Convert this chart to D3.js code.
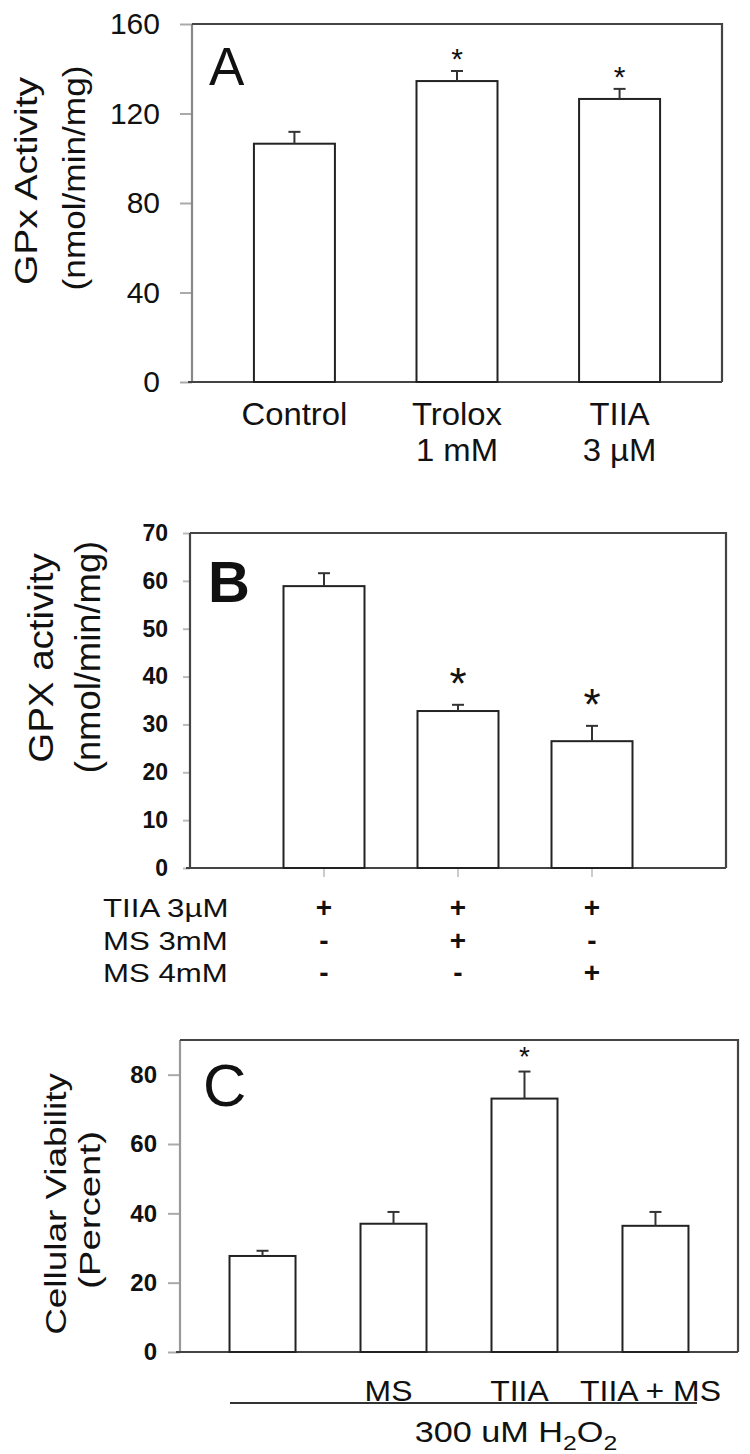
<!DOCTYPE html>
<html>
<head>
<meta charset="utf-8">
<script src="https://cdn.jsdelivr.net/npm/d3@7"></script>
<style>
  body { margin: 0; background: #fff; }
  svg { display: block; }
</style>
</head>
<body>
<svg id="fig" width="750" height="1454"></svg>
<script>
// Three stacked bar panels (A, B, C) with error bars and significance stars

// Panel A data
const A_LABELS = [["Control"], ["Trolox", "1 mM"], ["TIIA", "3 µM"]];
const A_VALUES = [106.5, 134.5, 126.5];
const A_ERRORS = [5.3, 4.5, 4.5];
const A_SIG = [false, true, true];
const A_TICKS = [0, 40, 80, 120, 160];

// Panel B data
const B_GROUPS = ["g1", "g2", "g3"];
const B_VALUES = [58.9, 32.8, 26.5];
const B_ERRORS = [2.7, 1.3, 3.2];
const B_SIG = [false, true, true];
const B_TICKS = [0, 10, 20, 30, 40, 50, 60, 70];
const B_ROWS = ["TIIA 3µM", "MS 3mM", "MS 4mM"];
const B_SIGNS = [["+", "+", "+"], ["-", "+", "-"], ["-", "-", "+"]];

// Panel C data
const C_LABELS = ["", "MS", "TIIA", "TIIA + MS"];
const C_VALUES = [27.7, 37.0, 73.1, 36.4];
const C_ERRORS = [1.5, 3.4, 7.8, 4.0];
const C_SIG = [false, false, true, false];
const C_TICKS = [0, 20, 40, 60, 80];

const FONT = "Liberation Sans, Arial, Helvetica, sans-serif";
const svg = d3.select("#fig");

// text helper: sx stretches along the text direction
function txt(g, s, x, y, o = {}) {
    const t = g.append("text")
        .attr("transform", `translate(${x},${y}) rotate(${o.rot || 0}) scale(${o.sx || 1},1)`)
        .attr("font-family", FONT)
        .attr("font-size", o.size || 24)
        .attr("font-weight", o.weight || "normal")
        .attr("text-anchor", o.anchor || "middle")
        .attr("fill", o.fill || "#111");
    if (s !== null) t.text(s);
    return t;
}

function drawPanel(p) {
    const g = svg.append("g");
    const y = d3.scaleLinear().domain([0, p.yMax]).range([p.bottom, p.top]);
    const x = d3.scalePoint().domain(d3.range(p.values.length))
        .range([p.left, p.right]).padding(p.pad);

    // y axis ticks
    const axis = g.append("g")
        .attr("transform", `translate(${p.left},0)`)
        .call(d3.axisLeft(y).tickValues(p.ticks).tickSize(p.tickLen).tickPadding(p.tickPad));
    axis.select(".domain").remove();
    axis.selectAll(".tick line").attr("stroke", p.tickColor).attr("stroke-width", 2);
    axis.selectAll(".tick text")
        .attr("font-family", FONT)
        .attr("font-size", p.tickSize)
        .attr("font-weight", p.tickWeight || "normal")
        .attr("fill", "#111");

    // frame
    g.append("line").attr("x1", p.left).attr("x2", p.left).attr("y1", p.top).attr("y2", p.bottom)
        .attr("stroke", p.leftColor).attr("stroke-width", 2.2);
    g.append("path")
        .attr("d", `M${p.left},${p.top}H${p.right}V${p.bottom}`)
        .attr("fill", "none").attr("stroke", "#444").attr("stroke-width", 2.2);
    g.append("line").attr("x1", p.left - 4).attr("x2", p.right).attr("y1", p.bottom).attr("y2", p.bottom)
        .attr("stroke", "#444").attr("stroke-width", 2.2);

    // bars
    p.values.forEach((v, i) => {
        const cx = x(i);
        g.append("rect")
            .attr("x", cx - p.barW / 2).attr("y", y(v))
            .attr("width", p.barW).attr("height", y(0) - y(v))
            .attr("fill", "#fff").attr("stroke", "#222").attr("stroke-width", 2);
        const et = y(v + p.errors[i]);
        g.append("line").attr("x1", cx).attr("x2", cx).attr("y1", y(v)).attr("y2", et)
            .attr("stroke", "#333").attr("stroke-width", 2);
        g.append("line").attr("x1", cx - 6).attr("x2", cx + 6).attr("y1", et).attr("y2", et)
            .attr("stroke", "#333").attr("stroke-width", 2);
        if (p.sig[i]) {
            txt(g, "*", cx, et - p.starGap + 0.58 * p.starSize, { size: p.starSize, weight: p.starWeight });
        }
    });

    // panel letter
    txt(g, p.letter, p.letterX, p.letterY, { size: p.letterSize, anchor: "start", weight: p.letterWeight });

    // y titles
    p.titles.forEach(t => {
        txt(g, t.text, t.x, t.y, { rot: -90, size: t.size, sx: t.sx });
    });

    return { g, x, y };
}

// ---------- Panel A ----------
const pa = drawPanel({
    values: A_VALUES, errors: A_ERRORS, sig: A_SIG, ticks: A_TICKS, yMax: 160,
    left: 192, right: 722, top: 24, bottom: 382, pad: 0.63, barW: 81,
    tickLen: 12, tickPad: 20, tickSize: 30, tickColor: "#aaa", leftColor: "#888",
    starGap: 19, starSize: 30,
    letter: "A", letterX: 209, letterY: 85, letterSize: 53,
    titles: [
        { text: "GPx Activity", x: 37, y: 181, size: 32, sx: 1.22 },
        { text: "(nmol/min/mg)", x: 85, y: 178, size: 32, sx: 1.1 }
    ]
});
A_LABELS.forEach((lines, i) => {
    lines.forEach((s, k) => {
        txt(pa.g, s, pa.x(i), 425 + k * 36, { size: 31, sx: 1.06 });
    });
});

// ---------- Panel B ----------
const pb = drawPanel({
    values: B_VALUES, errors: B_ERRORS, sig: B_SIG, ticks: B_TICKS, yMax: 70,
    left: 190, right: 726, top: 533, bottom: 868, pad: 1, barW: 81,
    tickLen: 7, tickPad: 15, tickSize: 23, tickWeight: "bold", tickColor: "#bbb", leftColor: "#444",
    starGap: 31, starSize: 44,
    letter: "B", letterX: 208, letterY: 602, letterSize: 58, letterWeight: "bold",
    titles: [
        { text: "GPX activity", x: 53, y: 658, size: 35, sx: 1.1 },
        { text: "(nmol/min/mg)", x: 100, y: 657, size: 35, sx: 1.04 }
    ]
});
// small x ticks below B
B_GROUPS.forEach((d, i) => {
    pb.g.append("line").attr("x1", pb.x(i)).attr("x2", pb.x(i)).attr("y1", 869).attr("y2", 877)
        .attr("stroke", "#ccc").attr("stroke-width", 2);
});
B_ROWS.forEach((r, k) => {
    const by = 917 + k * 32.5;
    txt(pb.g, r, 103, by, { size: 26, sx: 1.2, anchor: "start" });
    B_SIGNS[k].forEach((s, i) => {
        txt(pb.g, s, pb.x(i), by, { size: 28, weight: "bold" });
    });
});

// ---------- Panel C ----------
const pc = drawPanel({
    values: C_VALUES, errors: C_ERRORS, sig: C_SIG, ticks: C_TICKS, yMax: 90,
    left: 180, right: 738, top: 1040, bottom: 1352, pad: 0.63, barW: 66,
    tickLen: 12, tickPad: 11, tickSize: 24, tickWeight: "bold", tickColor: "#aaa", leftColor: "#999",
    starGap: 22, starSize: 28,
    letter: "C", letterX: 203, letterY: 1106, letterSize: 60,
    titles: [
        { text: "Cellular Viability", x: 66, y: 1204, size: 30, sx: 1.23 },
        { text: "(Percent)", x: 100, y: 1210, size: 30, sx: 1.28 }
    ]
});
C_LABELS.forEach((s, i) => {
    if (s) txt(pc.g, s, pc.x(i) - 5, 1401, { size: 29, sx: 1.1 });
});
pc.g.append("line").attr("x1", 230).attr("x2", 697).attr("y1", 1403).attr("y2", 1403)
    .attr("stroke", "#333").attr("stroke-width", 2);
const h2o2 = txt(pc.g, null, 516, 1442, { size: 29, sx: 1.18 });
h2o2.append("tspan").text("300 uM H");
h2o2.append("tspan").attr("font-size", 21).attr("dy", 8).text("2");
h2o2.append("tspan").attr("dy", -8).text("O");
h2o2.append("tspan").attr("font-size", 21).attr("dy", 8).text("2");
</script>
</body>
</html>
